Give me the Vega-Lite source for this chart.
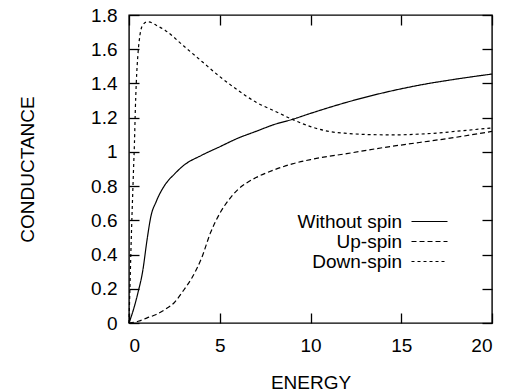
{
  "$schema": "https://vega.github.io/schema/vega-lite/v6.json",
  "autosize": "none",
  "padding": {"left": 129, "top": 15, "right": 13, "bottom": 68},
  "width": 363,
  "height": 308,
  "config": {
    "font": "Liberation Sans",
    "view": {"stroke": "black", "strokeWidth": 1.4},
    "axis": {
      "domain": false,
      "tickColor": "black",
      "tickWidth": 1.3,
      "tickSize": -10,
      "labelColor": "black",
      "labelFont": "Liberation Sans",
      "labelFontSize": 19,
      "titleColor": "black",
      "titleFont": "Liberation Sans",
      "titleFontSize": 19,
      "titleFontWeight": "normal",
      "grid": false
    }
  },
  "data": {
    "values": [
      {"E": 0, "G": 0, "s": "Without spin"},
      {"E": 0.25, "G": 0.08, "s": "Without spin"},
      {"E": 0.5, "G": 0.18, "s": "Without spin"},
      {"E": 0.75, "G": 0.3, "s": "Without spin"},
      {"E": 1.0, "G": 0.49, "s": "Without spin"},
      {"E": 1.2, "G": 0.62, "s": "Without spin"},
      {"E": 1.5, "G": 0.71, "s": "Without spin"},
      {"E": 2, "G": 0.81, "s": "Without spin"},
      {"E": 2.5, "G": 0.87, "s": "Without spin"},
      {"E": 3, "G": 0.92, "s": "Without spin"},
      {"E": 4, "G": 0.98, "s": "Without spin"},
      {"E": 5, "G": 1.03, "s": "Without spin"},
      {"E": 6, "G": 1.08, "s": "Without spin"},
      {"E": 7, "G": 1.12, "s": "Without spin"},
      {"E": 8, "G": 1.16, "s": "Without spin"},
      {"E": 9, "G": 1.19, "s": "Without spin"},
      {"E": 10, "G": 1.225, "s": "Without spin"},
      {"E": 12, "G": 1.29, "s": "Without spin"},
      {"E": 14, "G": 1.345, "s": "Without spin"},
      {"E": 16, "G": 1.39, "s": "Without spin"},
      {"E": 18, "G": 1.425, "s": "Without spin"},
      {"E": 20, "G": 1.455, "s": "Without spin"},
      {"E": 0, "G": 0, "s": "Up-spin"},
      {"E": 0.5, "G": 0.01, "s": "Up-spin"},
      {"E": 1, "G": 0.03, "s": "Up-spin"},
      {"E": 1.5, "G": 0.05, "s": "Up-spin"},
      {"E": 2, "G": 0.08, "s": "Up-spin"},
      {"E": 2.5, "G": 0.12, "s": "Up-spin"},
      {"E": 3, "G": 0.19, "s": "Up-spin"},
      {"E": 3.5, "G": 0.27, "s": "Up-spin"},
      {"E": 4, "G": 0.38, "s": "Up-spin"},
      {"E": 4.5, "G": 0.53, "s": "Up-spin"},
      {"E": 5, "G": 0.64, "s": "Up-spin"},
      {"E": 5.5, "G": 0.72, "s": "Up-spin"},
      {"E": 6, "G": 0.78, "s": "Up-spin"},
      {"E": 6.5, "G": 0.82, "s": "Up-spin"},
      {"E": 7, "G": 0.85, "s": "Up-spin"},
      {"E": 8, "G": 0.895, "s": "Up-spin"},
      {"E": 9, "G": 0.93, "s": "Up-spin"},
      {"E": 10, "G": 0.955, "s": "Up-spin"},
      {"E": 12, "G": 0.99, "s": "Up-spin"},
      {"E": 14, "G": 1.025, "s": "Up-spin"},
      {"E": 16, "G": 1.055, "s": "Up-spin"},
      {"E": 18, "G": 1.085, "s": "Up-spin"},
      {"E": 20, "G": 1.12, "s": "Up-spin"},
      {"E": 0, "G": 0, "s": "Down-spin"},
      {"E": 0.05, "G": 0.2, "s": "Down-spin"},
      {"E": 0.1, "G": 0.4, "s": "Down-spin"},
      {"E": 0.15, "G": 0.58, "s": "Down-spin"},
      {"E": 0.2, "G": 0.74, "s": "Down-spin"},
      {"E": 0.25, "G": 0.9, "s": "Down-spin"},
      {"E": 0.3, "G": 1.05, "s": "Down-spin"},
      {"E": 0.35, "G": 1.25, "s": "Down-spin"},
      {"E": 0.4, "G": 1.4, "s": "Down-spin"},
      {"E": 0.5, "G": 1.58, "s": "Down-spin"},
      {"E": 0.6, "G": 1.68, "s": "Down-spin"},
      {"E": 0.75, "G": 1.74, "s": "Down-spin"},
      {"E": 1.0, "G": 1.76, "s": "Down-spin"},
      {"E": 1.25, "G": 1.755, "s": "Down-spin"},
      {"E": 1.5, "G": 1.74, "s": "Down-spin"},
      {"E": 2, "G": 1.71, "s": "Down-spin"},
      {"E": 3, "G": 1.62, "s": "Down-spin"},
      {"E": 4, "G": 1.53, "s": "Down-spin"},
      {"E": 5, "G": 1.44, "s": "Down-spin"},
      {"E": 6, "G": 1.36, "s": "Down-spin"},
      {"E": 7, "G": 1.29, "s": "Down-spin"},
      {"E": 8, "G": 1.24, "s": "Down-spin"},
      {"E": 9, "G": 1.19, "s": "Down-spin"},
      {"E": 10, "G": 1.148, "s": "Down-spin"},
      {"E": 11, "G": 1.12, "s": "Down-spin"},
      {"E": 12, "G": 1.108, "s": "Down-spin"},
      {"E": 13, "G": 1.102, "s": "Down-spin"},
      {"E": 14, "G": 1.1, "s": "Down-spin"},
      {"E": 15, "G": 1.1, "s": "Down-spin"},
      {"E": 16, "G": 1.104, "s": "Down-spin"},
      {"E": 17, "G": 1.11, "s": "Down-spin"},
      {"E": 18, "G": 1.12, "s": "Down-spin"},
      {"E": 19, "G": 1.13, "s": "Down-spin"},
      {"E": 20, "G": 1.14, "s": "Down-spin"}
    ]
  },
  "resolve": {"axis": {"x": "independent", "y": "independent"}},
  "layer": [
    {
      "mark": {"type": "line", "color": "black", "strokeWidth": 1.2, "interpolate": "monotone"},
      "encoding": {
        "x": {
          "field": "E", "type": "quantitative",
          "scale": {"domain": [0, 20], "nice": false},
          "axis": {"values": [0, 5, 10, 15, 20], "title": "ENERGY", "labelPadding": 23,
                   "titleX": 181.5, "titleY": 65, "titleBaseline": "alphabetic", "titleAlign": "center"}
        },
        "y": {
          "field": "G", "type": "quantitative",
          "scale": {"domain": [0, 1.8], "nice": false},
          "axis": {"values": [0, 0.2, 0.4, 0.6, 0.8, 1, 1.2, 1.4, 1.6, 1.8], "format": "~g",
                   "title": "CONDUCTANCE", "labelPadding": 22,
                   "titleX": -96, "titleY": 154, "titleAngle": -90, "titleBaseline": "alphabetic", "titleAlign": "center"}
        },
        "strokeDash": {
          "field": "s", "type": "nominal",
          "scale": {"domain": ["Without spin", "Up-spin", "Down-spin"], "range": [[1, 0], [5, 3], [3, 3]]},
          "legend": {
            "title": null, "orient": "none", "legendX": 291, "legendY": 197,
            "padding": 0, "symbolType": "M-3,0H3", "symbolSize": 144, "symbolStrokeWidth": 1.2,
            "symbolStrokeColor": "black", "symbolFillColor": "transparent", "labelAlign": "right", "labelOffset": -37,
            "labelFontSize": 19, "labelFont": "Liberation Sans", "labelColor": "black", "rowPadding": -1,
            "labelLimit": 300
          }
        },
        "detail": {"field": "s", "type": "nominal"}
      }
    },
    {
      "mark": {"type": "line", "opacity": 0},
      "encoding": {
        "x": {"field": "E", "type": "quantitative",
              "axis": {"orient": "top", "values": [0, 5, 10, 15, 20], "labels": false, "title": null}},
        "y": {"field": "G", "type": "quantitative",
              "axis": {"orient": "right", "values": [0, 0.2, 0.4, 0.6, 0.8, 1, 1.2, 1.4, 1.6, 1.8], "labels": false, "title": null}},
        "detail": {"field": "s", "type": "nominal"}
      }
    }
  ]
}
